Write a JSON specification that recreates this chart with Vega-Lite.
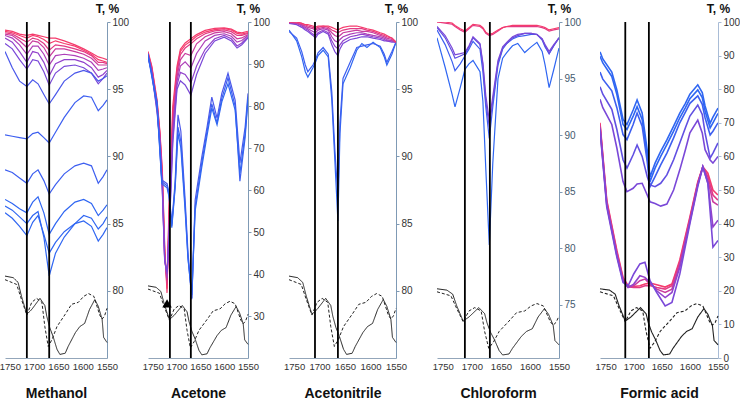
{
"$schema":"https://vega.github.io/schema/vega-lite/v6.json",
"padding":{"left":-1,"top":2,"right":0,"bottom":0},
"spacing":41,
"bounds":"flush",
"config":{"view":{"stroke":null},"font":"Liberation Sans",
"axisX":{"domainColor":"#93a6ba","ticks":false,"labelPadding":3,"labelFontSize":9.5,"labelColor":"#333","labelFlush":false,"labelOverlap":false,"labelSeparation":0,"grid":false,"format":"d","titleFontSize":14,"titleFontWeight":"bold","titleColor":"#111","titleY":39,"titleBaseline":"alphabetic"},
"axisY":{"domainColor":"#7f9ab5","tickColor":"#7f9ab5","tickSize":3,"labelPadding":2,"labelFontSize":10,"labelColor":"#333","labelOverlap":false,"grid":false,"titleAngle":0,"titleFontSize":12,"titleFontWeight":"bold","titleColor":"#111","titleX":0,"titleY":-10,"titleAlign":"center","titleBaseline":"alphabetic"}},
"datasets":{
"ser":[{"s":"1a","p":1,"c":9},{"s":"1b","p":1,"c":9},{"s":"1c","p":1,"c":8},{"s":"1d","p":1,"c":7},{"s":"1e","p":1,"c":6},{"s":"1f","p":1,"c":5},{"s":"1g","p":1,"c":4},{"s":"1h","p":1,"c":2},{"s":"1i","p":1,"c":1},{"s":"1j","p":1,"c":1},{"s":"1k","p":1,"c":0},{"s":"1l","p":1,"c":0},{"s":"1m","p":1,"c":0},
{"s":"2a","p":2,"c":9},{"s":"2b","p":2,"c":9},{"s":"2c","p":2,"c":8},{"s":"2d","p":2,"c":7},{"s":"2e","p":2,"c":6},{"s":"2f","p":2,"c":5},{"s":"2g","p":2,"c":4},{"s":"2h","p":2,"c":2},{"s":"2i","p":2,"c":1},{"s":"2j","p":2,"c":0},
{"s":"3a","p":3,"c":0},{"s":"3b","p":3,"c":1},{"s":"3c","p":3,"c":4},{"s":"3d","p":3,"c":5},{"s":"3e","p":3,"c":6},{"s":"3f","p":3,"c":7},{"s":"3g","p":3,"c":8},{"s":"3h","p":3,"c":9},
{"s":"4a","p":4,"c":0},{"s":"4b","p":4,"c":1},{"s":"4c","p":4,"c":3},{"s":"4d","p":4,"c":4},{"s":"4e","p":4,"c":8},{"s":"4f","p":4,"c":9},
{"s":"5a","p":5,"c":0},{"s":"5b","p":5,"c":0},{"s":"5c","p":5,"c":1},{"s":"5d","p":5,"c":3},{"s":"5e","p":5,"c":4},{"s":"5f","p":5,"c":9},{"s":"5g","p":5,"c":8},{"s":"5h","p":5,"c":7},{"s":"5i","p":5,"c":5},{"s":"5j","p":5,"c":4}],
"sp":[
{"s":"1a","x":1760,"y":99.4},{"s":"1a","x":1745,"y":99.3},{"s":"1a","x":1730,"y":99.1},{"s":"1a","x":1715,"y":99.0},{"s":"1a","x":1703,"y":99.1},{"s":"1a","x":1692,"y":99.0},{"s":"1a","x":1680,"y":98.9},{"s":"1a","x":1669,"y":98.8},{"s":"1a","x":1656,"y":98.8},{"s":"1a","x":1638,"y":98.6},{"s":"1a","x":1616,"y":98.3},{"s":"1a","x":1598,"y":98.0},{"s":"1a","x":1582,"y":97.7},{"s":"1a","x":1568,"y":97.4},{"s":"1a","x":1558,"y":97.3},{"s":"1a","x":1550,"y":97.2},
{"s":"1b","x":1760,"y":99.3},{"s":"1b","x":1745,"y":99.2},{"s":"1b","x":1730,"y":99.0},{"s":"1b","x":1715,"y":98.8},{"s":"1b","x":1703,"y":99.0},{"s":"1b","x":1692,"y":98.9},{"s":"1b","x":1680,"y":98.7},{"s":"1b","x":1669,"y":98.4},{"s":"1b","x":1656,"y":98.6},{"s":"1b","x":1638,"y":98.4},{"s":"1b","x":1616,"y":98.2},{"s":"1b","x":1598,"y":97.9},{"s":"1b","x":1582,"y":97.6},{"s":"1b","x":1568,"y":97.2},{"s":"1b","x":1558,"y":97.1},{"s":"1b","x":1550,"y":97.0},
{"s":"1c","x":1760,"y":99.2},{"s":"1c","x":1745,"y":99.1},{"s":"1c","x":1730,"y":98.8},{"s":"1c","x":1715,"y":98.5},{"s":"1c","x":1703,"y":98.8},{"s":"1c","x":1692,"y":98.7},{"s":"1c","x":1680,"y":98.4},{"s":"1c","x":1669,"y":97.9},{"s":"1c","x":1656,"y":98.3},{"s":"1c","x":1638,"y":98.2},{"s":"1c","x":1616,"y":98.0},{"s":"1c","x":1598,"y":97.8},{"s":"1c","x":1582,"y":97.5},{"s":"1c","x":1568,"y":97.0},{"s":"1c","x":1558,"y":97.0},{"s":"1c","x":1550,"y":96.9},
{"s":"1d","x":1760,"y":99.1},{"s":"1d","x":1745,"y":99.0},{"s":"1d","x":1730,"y":98.6},{"s":"1d","x":1715,"y":98.1},{"s":"1d","x":1703,"y":98.6},{"s":"1d","x":1692,"y":98.5},{"s":"1d","x":1680,"y":98.1},{"s":"1d","x":1669,"y":97.4},{"s":"1d","x":1656,"y":98.0},{"s":"1d","x":1638,"y":98.0},{"s":"1d","x":1616,"y":97.8},{"s":"1d","x":1598,"y":97.6},{"s":"1d","x":1582,"y":97.3},{"s":"1d","x":1568,"y":96.8},{"s":"1d","x":1558,"y":96.8},{"s":"1d","x":1550,"y":96.8},
{"s":"1e","x":1760,"y":99.0},{"s":"1e","x":1745,"y":98.8},{"s":"1e","x":1730,"y":98.3},{"s":"1e","x":1715,"y":97.6},{"s":"1e","x":1703,"y":98.2},{"s":"1e","x":1692,"y":98.2},{"s":"1e","x":1680,"y":97.6},{"s":"1e","x":1669,"y":96.8},{"s":"1e","x":1656,"y":97.5},{"s":"1e","x":1638,"y":97.6},{"s":"1e","x":1616,"y":97.5},{"s":"1e","x":1598,"y":97.3},{"s":"1e","x":1582,"y":97.0},{"s":"1e","x":1568,"y":96.4},{"s":"1e","x":1558,"y":96.5},{"s":"1e","x":1550,"y":96.6},
{"s":"1f","x":1760,"y":98.8},{"s":"1f","x":1745,"y":98.5},{"s":"1f","x":1730,"y":97.8},{"s":"1f","x":1715,"y":97.0},{"s":"1f","x":1703,"y":97.8},{"s":"1f","x":1692,"y":97.7},{"s":"1f","x":1680,"y":97.0},{"s":"1f","x":1669,"y":96.0},{"s":"1f","x":1656,"y":96.9},{"s":"1f","x":1638,"y":97.2},{"s":"1f","x":1616,"y":97.2},{"s":"1f","x":1598,"y":97.0},{"s":"1f","x":1582,"y":96.6},{"s":"1f","x":1568,"y":95.9},{"s":"1f","x":1558,"y":96.1},{"s":"1f","x":1550,"y":96.4},
{"s":"1g","x":1760,"y":98.4},{"s":"1g","x":1745,"y":98.0},{"s":"1g","x":1730,"y":97.2},{"s":"1g","x":1715,"y":96.5},{"s":"1g","x":1703,"y":97.2},{"s":"1g","x":1692,"y":97.1},{"s":"1g","x":1680,"y":96.3},{"s":"1g","x":1669,"y":95.3},{"s":"1g","x":1656,"y":96.2},{"s":"1g","x":1638,"y":96.7},{"s":"1g","x":1616,"y":96.8},{"s":"1g","x":1598,"y":96.6},{"s":"1g","x":1582,"y":96.2},{"s":"1g","x":1568,"y":95.4},{"s":"1g","x":1558,"y":95.8},{"s":"1g","x":1550,"y":96.2},
{"s":"1h","x":1760,"y":97.8},{"s":"1h","x":1745,"y":96.6},{"s":"1h","x":1730,"y":95.6},{"s":"1h","x":1715,"y":95.2},{"s":"1h","x":1703,"y":95.7},{"s":"1h","x":1692,"y":95.4},{"s":"1h","x":1680,"y":94.6},{"s":"1h","x":1669,"y":93.9},{"s":"1h","x":1656,"y":94.6},{"s":"1h","x":1638,"y":95.6},{"s":"1h","x":1616,"y":96.2},{"s":"1h","x":1598,"y":96.4},{"s":"1h","x":1582,"y":96.2},{"s":"1h","x":1568,"y":95.6},{"s":"1h","x":1558,"y":95.8},{"s":"1h","x":1550,"y":96.0},
{"s":"1i","x":1760,"y":91.6},{"s":"1i","x":1745,"y":91.5},{"s":"1i","x":1730,"y":91.4},{"s":"1i","x":1715,"y":91.3},{"s":"1i","x":1703,"y":91.7},{"s":"1i","x":1692,"y":91.8},{"s":"1i","x":1680,"y":91.4},{"s":"1i","x":1669,"y":91.0},{"s":"1i","x":1656,"y":91.8},{"s":"1i","x":1638,"y":92.9},{"s":"1i","x":1616,"y":94.0},{"s":"1i","x":1598,"y":94.5},{"s":"1i","x":1582,"y":94.4},{"s":"1i","x":1568,"y":93.4},{"s":"1i","x":1558,"y":93.8},{"s":"1i","x":1550,"y":94.2},
{"s":"1j","x":1760,"y":89.0},{"s":"1j","x":1745,"y":88.8},{"s":"1j","x":1730,"y":88.4},{"s":"1j","x":1715,"y":88.0},{"s":"1j","x":1703,"y":88.7},{"s":"1j","x":1692,"y":89.0},{"s":"1j","x":1680,"y":88.2},{"s":"1j","x":1669,"y":87.2},{"s":"1j","x":1656,"y":87.9},{"s":"1j","x":1638,"y":88.7},{"s":"1j","x":1616,"y":89.3},{"s":"1j","x":1598,"y":89.5},{"s":"1j","x":1582,"y":89.3},{"s":"1j","x":1568,"y":88.0},{"s":"1j","x":1558,"y":88.5},{"s":"1j","x":1550,"y":89.0},
{"s":"1k","x":1760,"y":86.8},{"s":"1k","x":1745,"y":86.5},{"s":"1k","x":1730,"y":86.1},{"s":"1k","x":1715,"y":85.8},{"s":"1k","x":1703,"y":86.6},{"s":"1k","x":1692,"y":87.0},{"s":"1k","x":1680,"y":85.8},{"s":"1k","x":1669,"y":84.2},{"s":"1k","x":1656,"y":85.0},{"s":"1k","x":1638,"y":85.9},{"s":"1k","x":1616,"y":86.6},{"s":"1k","x":1598,"y":86.8},{"s":"1k","x":1582,"y":86.5},{"s":"1k","x":1568,"y":85.6},{"s":"1k","x":1558,"y":86.0},{"s":"1k","x":1550,"y":86.4},
{"s":"1l","x":1760,"y":85.8},{"s":"1l","x":1745,"y":85.4},{"s":"1l","x":1730,"y":84.8},{"s":"1l","x":1715,"y":84.1},{"s":"1l","x":1703,"y":85.1},{"s":"1l","x":1692,"y":85.6},{"s":"1l","x":1680,"y":84.2},{"s":"1l","x":1669,"y":82.8},{"s":"1l","x":1656,"y":83.6},{"s":"1l","x":1638,"y":84.4},{"s":"1l","x":1616,"y":85.0},{"s":"1l","x":1598,"y":85.2},{"s":"1l","x":1582,"y":84.8},{"s":"1l","x":1568,"y":83.7},{"s":"1l","x":1558,"y":84.2},{"s":"1l","x":1550,"y":84.7},
{"s":"1m","x":1760,"y":86.3},{"s":"1m","x":1745,"y":86.0},{"s":"1m","x":1730,"y":85.5},{"s":"1m","x":1715,"y":85.0},{"s":"1m","x":1703,"y":85.6},{"s":"1m","x":1692,"y":85.9},{"s":"1m","x":1680,"y":84.0},{"s":"1m","x":1669,"y":81.1},{"s":"1m","x":1656,"y":82.8},{"s":"1m","x":1638,"y":84.0},{"s":"1m","x":1616,"y":85.0},{"s":"1m","x":1598,"y":85.6},{"s":"1m","x":1582,"y":85.4},{"s":"1m","x":1568,"y":84.6},{"s":"1m","x":1558,"y":85.0},{"s":"1m","x":1550,"y":85.5},
{"s":"2a","x":1760,"y":93.0},{"s":"2a","x":1752,"y":89.5},{"s":"2a","x":1741,"y":81.5},{"s":"2a","x":1735,"y":74.0},{"s":"2a","x":1730,"y":65.0},{"s":"2a","x":1725,"y":47.0},{"s":"2a","x":1720,"y":35.5},{"s":"2a","x":1716,"y":56.0},{"s":"2a","x":1708,"y":80.0},{"s":"2a","x":1699,"y":89.5},{"s":"2a","x":1692,"y":93.5},{"s":"2a","x":1682,"y":95.0},{"s":"2a","x":1670,"y":96.0},{"s":"2a","x":1658,"y":97.0},{"s":"2a","x":1640,"y":98.0},{"s":"2a","x":1620,"y":98.5},{"s":"2a","x":1600,"y":98.6},{"s":"2a","x":1585,"y":98.3},{"s":"2a","x":1573,"y":97.6},{"s":"2a","x":1563,"y":97.4},{"s":"2a","x":1550,"y":97.8},
{"s":"2b","x":1760,"y":92.7},{"s":"2b","x":1752,"y":89.2},{"s":"2b","x":1741,"y":81.0},{"s":"2b","x":1735,"y":73.5},{"s":"2b","x":1730,"y":64.0},{"s":"2b","x":1725,"y":46.0},{"s":"2b","x":1720,"y":36.5},{"s":"2b","x":1716,"y":54.0},{"s":"2b","x":1708,"y":78.0},{"s":"2b","x":1699,"y":88.8},{"s":"2b","x":1692,"y":93.0},{"s":"2b","x":1682,"y":94.5},{"s":"2b","x":1670,"y":95.5},{"s":"2b","x":1658,"y":96.6},{"s":"2b","x":1640,"y":97.6},{"s":"2b","x":1620,"y":98.2},{"s":"2b","x":1600,"y":98.4},{"s":"2b","x":1585,"y":98.1},{"s":"2b","x":1573,"y":97.3},{"s":"2b","x":1563,"y":97.1},{"s":"2b","x":1550,"y":97.5},
{"s":"2c","x":1760,"y":92.4},{"s":"2c","x":1752,"y":88.9},{"s":"2c","x":1741,"y":80.5},{"s":"2c","x":1735,"y":73.0},{"s":"2c","x":1730,"y":63.0},{"s":"2c","x":1725,"y":45.0},{"s":"2c","x":1720,"y":37.5},{"s":"2c","x":1716,"y":52.0},{"s":"2c","x":1708,"y":76.0},{"s":"2c","x":1699,"y":88.0},{"s":"2c","x":1692,"y":92.2},{"s":"2c","x":1682,"y":93.8},{"s":"2c","x":1670,"y":94.8},{"s":"2c","x":1658,"y":96.0},{"s":"2c","x":1640,"y":97.2},{"s":"2c","x":1620,"y":97.9},{"s":"2c","x":1600,"y":98.1},{"s":"2c","x":1585,"y":97.7},{"s":"2c","x":1573,"y":96.8},{"s":"2c","x":1563,"y":96.8},{"s":"2c","x":1550,"y":97.3},
{"s":"2d","x":1760,"y":92.2},{"s":"2d","x":1752,"y":88.6},{"s":"2d","x":1741,"y":80.0},{"s":"2d","x":1735,"y":72.5},{"s":"2d","x":1730,"y":62.0},{"s":"2d","x":1725,"y":44.0},{"s":"2d","x":1720,"y":38.5},{"s":"2d","x":1716,"y":51.0},{"s":"2d","x":1708,"y":75.0},{"s":"2d","x":1699,"y":87.0},{"s":"2d","x":1692,"y":91.0},{"s":"2d","x":1682,"y":92.5},{"s":"2d","x":1670,"y":92.0},{"s":"2d","x":1658,"y":94.8},{"s":"2d","x":1640,"y":96.5},{"s":"2d","x":1620,"y":97.4},{"s":"2d","x":1600,"y":97.7},{"s":"2d","x":1585,"y":97.2},{"s":"2d","x":1573,"y":96.0},{"s":"2d","x":1563,"y":96.2},{"s":"2d","x":1550,"y":97.0},
{"s":"2e","x":1760,"y":92.0},{"s":"2e","x":1752,"y":88.3},{"s":"2e","x":1741,"y":79.5},{"s":"2e","x":1735,"y":72.0},{"s":"2e","x":1730,"y":61.0},{"s":"2e","x":1725,"y":43.5},{"s":"2e","x":1720,"y":39.0},{"s":"2e","x":1716,"y":50.0},{"s":"2e","x":1708,"y":74.0},{"s":"2e","x":1699,"y":86.0},{"s":"2e","x":1692,"y":89.5},{"s":"2e","x":1682,"y":90.5},{"s":"2e","x":1670,"y":89.0},{"s":"2e","x":1658,"y":92.5},{"s":"2e","x":1640,"y":95.5},{"s":"2e","x":1620,"y":96.8},{"s":"2e","x":1600,"y":97.2},{"s":"2e","x":1585,"y":96.6},{"s":"2e","x":1573,"y":95.2},{"s":"2e","x":1563,"y":95.6},{"s":"2e","x":1550,"y":96.8},
{"s":"2f","x":1760,"y":91.8},{"s":"2f","x":1752,"y":88.0},{"s":"2f","x":1741,"y":79.0},{"s":"2f","x":1735,"y":71.5},{"s":"2f","x":1730,"y":60.5},{"s":"2f","x":1725,"y":43.5},{"s":"2f","x":1720,"y":40.0},{"s":"2f","x":1716,"y":49.0},{"s":"2f","x":1708,"y":72.0},{"s":"2f","x":1699,"y":85.0},{"s":"2f","x":1692,"y":88.0},{"s":"2f","x":1682,"y":87.5},{"s":"2f","x":1670,"y":85.5},{"s":"2f","x":1658,"y":89.5},{"s":"2f","x":1640,"y":93.5},{"s":"2f","x":1620,"y":96.0},{"s":"2f","x":1600,"y":96.8},{"s":"2f","x":1585,"y":96.0},{"s":"2f","x":1573,"y":94.3},{"s":"2f","x":1563,"y":95.0},{"s":"2f","x":1550,"y":96.5},
{"s":"2g","x":1760,"y":91.6},{"s":"2g","x":1752,"y":87.8},{"s":"2g","x":1741,"y":78.5},{"s":"2g","x":1735,"y":71.0},{"s":"2g","x":1730,"y":60.0},{"s":"2g","x":1725,"y":43.0},{"s":"2g","x":1720,"y":40.5},{"s":"2g","x":1716,"y":48.0},{"s":"2g","x":1708,"y":71.0},{"s":"2g","x":1699,"y":84.0},{"s":"2g","x":1692,"y":86.0},{"s":"2g","x":1682,"y":85.0},{"s":"2g","x":1670,"y":82.6},{"s":"2g","x":1658,"y":87.5},{"s":"2g","x":1640,"y":92.5},{"s":"2g","x":1620,"y":95.5},{"s":"2g","x":1600,"y":96.4},{"s":"2g","x":1585,"y":95.5},{"s":"2g","x":1573,"y":93.8},{"s":"2g","x":1563,"y":94.6},{"s":"2g","x":1550,"y":96.2},
{"s":"2h","x":1760,"y":92.5},{"s":"2h","x":1741,"y":81.0},{"s":"2h","x":1731,"y":62.4},{"s":"2h","x":1720,"y":61.5},{"s":"2h","x":1716,"y":59.5},{"s":"2h","x":1710,"y":52.0},{"s":"2h","x":1703,"y":62.0},{"s":"2h","x":1697,"y":77.9},{"s":"2h","x":1691,"y":74.0},{"s":"2h","x":1682,"y":57.6},{"s":"2h","x":1676,"y":45.0},{"s":"2h","x":1668,"y":34.3},{"s":"2h","x":1661,"y":57.6},{"s":"2h","x":1647,"y":67.9},{"s":"2h","x":1636,"y":75.0},{"s":"2h","x":1626,"y":82.1},{"s":"2h","x":1615,"y":77.1},{"s":"2h","x":1605,"y":83.0},{"s":"2h","x":1592,"y":87.8},{"s":"2h","x":1577,"y":81.4},{"s":"2h","x":1567,"y":66.4},{"s":"2h","x":1556,"y":75.0},{"s":"2h","x":1550,"y":83.0},
{"s":"2i","x":1760,"y":92.3},{"s":"2i","x":1741,"y":80.5},{"s":"2i","x":1731,"y":62.0},{"s":"2i","x":1720,"y":61.0},{"s":"2i","x":1716,"y":59.0},{"s":"2i","x":1710,"y":51.5},{"s":"2i","x":1703,"y":61.0},{"s":"2i","x":1697,"y":75.0},{"s":"2i","x":1691,"y":71.5},{"s":"2i","x":1682,"y":56.0},{"s":"2i","x":1676,"y":44.0},{"s":"2i","x":1668,"y":34.0},{"s":"2i","x":1661,"y":56.0},{"s":"2i","x":1647,"y":66.5},{"s":"2i","x":1636,"y":74.0},{"s":"2i","x":1626,"y":80.5},{"s":"2i","x":1615,"y":76.0},{"s":"2i","x":1605,"y":81.8},{"s":"2i","x":1592,"y":86.7},{"s":"2i","x":1577,"y":80.0},{"s":"2i","x":1567,"y":62.1},{"s":"2i","x":1556,"y":72.5},{"s":"2i","x":1550,"y":81.5},
{"s":"2j","x":1760,"y":92.0},{"s":"2j","x":1741,"y":80.0},{"s":"2j","x":1731,"y":61.5},{"s":"2j","x":1720,"y":60.5},{"s":"2j","x":1716,"y":58.5},{"s":"2j","x":1710,"y":51.0},{"s":"2j","x":1703,"y":60.5},{"s":"2j","x":1697,"y":73.5},{"s":"2j","x":1691,"y":70.0},{"s":"2j","x":1682,"y":55.0},{"s":"2j","x":1676,"y":43.5},{"s":"2j","x":1668,"y":35.0},{"s":"2j","x":1661,"y":55.0},{"s":"2j","x":1647,"y":65.5},{"s":"2j","x":1636,"y":73.0},{"s":"2j","x":1626,"y":79.5},{"s":"2j","x":1615,"y":75.5},{"s":"2j","x":1605,"y":81.0},{"s":"2j","x":1592,"y":85.3},{"s":"2j","x":1577,"y":79.0},{"s":"2j","x":1567,"y":64.0},{"s":"2j","x":1556,"y":73.5},{"s":"2j","x":1550,"y":82.0},
{"s":"3a","x":1760,"y":99.4},{"s":"3a","x":1745,"y":98.6},{"s":"3a","x":1735,"y":97.4},{"s":"3a","x":1728,"y":96.3},{"s":"3a","x":1723,"y":95.9},{"s":"3a","x":1713,"y":96.6},{"s":"3a","x":1708,"y":97.0},{"s":"3a","x":1703,"y":97.5},{"s":"3a","x":1693,"y":97.9},{"s":"3a","x":1683,"y":97.4},{"s":"3a","x":1676,"y":94.2},{"s":"3a","x":1670,"y":89.7},{"s":"3a","x":1664,"y":85.2},{"s":"3a","x":1660,"y":91.7},{"s":"3a","x":1654,"y":95.4},{"s":"3a","x":1640,"y":96.6},{"s":"3a","x":1627,"y":97.9},{"s":"3a","x":1617,"y":98.4},{"s":"3a","x":1607,"y":98.1},{"s":"3a","x":1595,"y":98.5},{"s":"3a","x":1581,"y":98.1},{"s":"3a","x":1573,"y":97.4},{"s":"3a","x":1568,"y":96.8},{"s":"3a","x":1558,"y":97.6},{"s":"3a","x":1550,"y":98.5},
{"s":"3b","x":1760,"y":99.3},{"s":"3b","x":1745,"y":98.8},{"s":"3b","x":1735,"y":97.8},{"s":"3b","x":1728,"y":96.8},{"s":"3b","x":1723,"y":96.3},{"s":"3b","x":1713,"y":96.8},{"s":"3b","x":1708,"y":97.2},{"s":"3b","x":1703,"y":97.7},{"s":"3b","x":1693,"y":98.1},{"s":"3b","x":1683,"y":97.6},{"s":"3b","x":1676,"y":94.8},{"s":"3b","x":1670,"y":90.5},{"s":"3b","x":1664,"y":87.0},{"s":"3b","x":1660,"y":92.5},{"s":"3b","x":1654,"y":95.8},{"s":"3b","x":1640,"y":97.0},{"s":"3b","x":1627,"y":98.1},{"s":"3b","x":1617,"y":98.2},{"s":"3b","x":1607,"y":98.3},{"s":"3b","x":1595,"y":98.4},{"s":"3b","x":1581,"y":98.2},{"s":"3b","x":1573,"y":97.6},{"s":"3b","x":1568,"y":97.0},{"s":"3b","x":1558,"y":97.8},{"s":"3b","x":1550,"y":98.5},
{"s":"3c","x":1760,"y":99.9},{"s":"3c","x":1745,"y":99.8},{"s":"3c","x":1735,"y":99.6},{"s":"3c","x":1728,"y":99.4},{"s":"3c","x":1723,"y":99.3},{"s":"3c","x":1713,"y":99.0},{"s":"3c","x":1708,"y":98.8},{"s":"3c","x":1703,"y":99.1},{"s":"3c","x":1693,"y":99.3},{"s":"3c","x":1683,"y":99.1},{"s":"3c","x":1676,"y":98.3},{"s":"3c","x":1670,"y":97.8},{"s":"3c","x":1664,"y":97.5},{"s":"3c","x":1660,"y":98.0},{"s":"3c","x":1654,"y":98.4},{"s":"3c","x":1640,"y":98.7},{"s":"3c","x":1627,"y":98.8},{"s":"3c","x":1617,"y":98.9},{"s":"3c","x":1607,"y":98.9},{"s":"3c","x":1595,"y":98.8},{"s":"3c","x":1581,"y":98.7},{"s":"3c","x":1573,"y":98.6},{"s":"3c","x":1568,"y":98.6},{"s":"3c","x":1558,"y":98.5},{"s":"3c","x":1550,"y":98.5},
{"s":"3d","x":1760,"y":99.9},{"s":"3d","x":1745,"y":99.9},{"s":"3d","x":1735,"y":99.7},{"s":"3d","x":1728,"y":99.5},{"s":"3d","x":1723,"y":99.4},{"s":"3d","x":1713,"y":99.1},{"s":"3d","x":1708,"y":99.0},{"s":"3d","x":1703,"y":99.2},{"s":"3d","x":1693,"y":99.4},{"s":"3d","x":1683,"y":99.2},{"s":"3d","x":1676,"y":98.6},{"s":"3d","x":1670,"y":98.2},{"s":"3d","x":1664,"y":98.0},{"s":"3d","x":1660,"y":98.3},{"s":"3d","x":1654,"y":98.6},{"s":"3d","x":1640,"y":98.9},{"s":"3d","x":1627,"y":99.0},{"s":"3d","x":1617,"y":99.1},{"s":"3d","x":1607,"y":99.0},{"s":"3d","x":1595,"y":98.9},{"s":"3d","x":1581,"y":98.8},{"s":"3d","x":1573,"y":98.7},{"s":"3d","x":1568,"y":98.6},{"s":"3d","x":1558,"y":98.6},{"s":"3d","x":1550,"y":98.5},
{"s":"3e","x":1760,"y":100},{"s":"3e","x":1745,"y":99.9},{"s":"3e","x":1735,"y":99.8},{"s":"3e","x":1728,"y":99.6},{"s":"3e","x":1723,"y":99.5},{"s":"3e","x":1713,"y":99.3},{"s":"3e","x":1708,"y":99.2},{"s":"3e","x":1703,"y":99.4},{"s":"3e","x":1693,"y":99.5},{"s":"3e","x":1683,"y":99.4},{"s":"3e","x":1676,"y":98.9},{"s":"3e","x":1670,"y":98.6},{"s":"3e","x":1664,"y":98.5},{"s":"3e","x":1660,"y":98.7},{"s":"3e","x":1654,"y":98.9},{"s":"3e","x":1640,"y":99.1},{"s":"3e","x":1627,"y":99.2},{"s":"3e","x":1617,"y":99.2},{"s":"3e","x":1607,"y":99.1},{"s":"3e","x":1595,"y":99.0},{"s":"3e","x":1581,"y":98.9},{"s":"3e","x":1573,"y":98.8},{"s":"3e","x":1568,"y":98.7},{"s":"3e","x":1558,"y":98.6},{"s":"3e","x":1550,"y":98.5},
{"s":"3f","x":1760,"y":100},{"s":"3f","x":1745,"y":99.9},{"s":"3f","x":1735,"y":99.8},{"s":"3f","x":1728,"y":99.7},{"s":"3f","x":1723,"y":99.6},{"s":"3f","x":1713,"y":99.5},{"s":"3f","x":1708,"y":99.4},{"s":"3f","x":1703,"y":99.5},{"s":"3f","x":1693,"y":99.6},{"s":"3f","x":1683,"y":99.5},{"s":"3f","x":1676,"y":99.2},{"s":"3f","x":1670,"y":99.0},{"s":"3f","x":1664,"y":98.9},{"s":"3f","x":1660,"y":99.0},{"s":"3f","x":1654,"y":99.2},{"s":"3f","x":1640,"y":99.3},{"s":"3f","x":1627,"y":99.4},{"s":"3f","x":1617,"y":99.3},{"s":"3f","x":1607,"y":99.3},{"s":"3f","x":1595,"y":99.2},{"s":"3f","x":1581,"y":99.0},{"s":"3f","x":1573,"y":98.9},{"s":"3f","x":1568,"y":98.8},{"s":"3f","x":1558,"y":98.7},{"s":"3f","x":1550,"y":98.5},
{"s":"3g","x":1760,"y":100},{"s":"3g","x":1745,"y":100},{"s":"3g","x":1735,"y":99.9},{"s":"3g","x":1728,"y":99.8},{"s":"3g","x":1723,"y":99.7},{"s":"3g","x":1713,"y":99.6},{"s":"3g","x":1708,"y":99.5},{"s":"3g","x":1703,"y":99.6},{"s":"3g","x":1693,"y":99.7},{"s":"3g","x":1683,"y":99.6},{"s":"3g","x":1676,"y":99.4},{"s":"3g","x":1670,"y":99.3},{"s":"3g","x":1664,"y":99.2},{"s":"3g","x":1660,"y":99.3},{"s":"3g","x":1654,"y":99.4},{"s":"3g","x":1640,"y":99.5},{"s":"3g","x":1627,"y":99.5},{"s":"3g","x":1617,"y":99.5},{"s":"3g","x":1607,"y":99.4},{"s":"3g","x":1595,"y":99.3},{"s":"3g","x":1581,"y":99.1},{"s":"3g","x":1573,"y":99.0},{"s":"3g","x":1568,"y":98.9},{"s":"3g","x":1558,"y":98.8},{"s":"3g","x":1550,"y":98.5},
{"s":"3h","x":1760,"y":100},{"s":"3h","x":1745,"y":100},{"s":"3h","x":1735,"y":99.9},{"s":"3h","x":1728,"y":99.8},{"s":"3h","x":1723,"y":99.8},{"s":"3h","x":1713,"y":99.7},{"s":"3h","x":1708,"y":99.6},{"s":"3h","x":1703,"y":99.7},{"s":"3h","x":1693,"y":99.7},{"s":"3h","x":1683,"y":99.7},{"s":"3h","x":1676,"y":99.6},{"s":"3h","x":1670,"y":99.5},{"s":"3h","x":1664,"y":99.4},{"s":"3h","x":1660,"y":99.5},{"s":"3h","x":1654,"y":99.6},{"s":"3h","x":1640,"y":99.7},{"s":"3h","x":1627,"y":99.7},{"s":"3h","x":1617,"y":99.6},{"s":"3h","x":1607,"y":99.5},{"s":"3h","x":1595,"y":99.4},{"s":"3h","x":1581,"y":99.2},{"s":"3h","x":1573,"y":99.1},{"s":"3h","x":1568,"y":99.0},{"s":"3h","x":1558,"y":98.8},{"s":"3h","x":1550,"y":98.5},
{"s":"4a","x":1760,"y":98.6},{"s":"4a","x":1746,"y":96.0},{"s":"4a","x":1734,"y":93.6},{"s":"4a","x":1729,"y":92.5},{"s":"4a","x":1720,"y":94.2},{"s":"4a","x":1712,"y":95.8},{"s":"4a","x":1705,"y":96.3},{"s":"4a","x":1698,"y":96.6},{"s":"4a","x":1686,"y":95.6},{"s":"4a","x":1681,"y":93.0},{"s":"4a","x":1676,"y":87.0},{"s":"4a","x":1670,"y":80.3},{"s":"4a","x":1664,"y":87.5},{"s":"4a","x":1655,"y":95.0},{"s":"4a","x":1647,"y":96.8},{"s":"4a","x":1640,"y":97.3},{"s":"4a","x":1630,"y":97.9},{"s":"4a","x":1621,"y":98.1},{"s":"4a","x":1609,"y":97.3},{"s":"4a","x":1598,"y":97.8},{"s":"4a","x":1588,"y":98.2},{"s":"4a","x":1579,"y":97.4},{"s":"4a","x":1574,"y":96.2},{"s":"4a","x":1567,"y":94.2},{"s":"4a","x":1559,"y":95.8},{"s":"4a","x":1550,"y":97.7},
{"s":"4b","x":1760,"y":99.3},{"s":"4b","x":1746,"y":98.0},{"s":"4b","x":1734,"y":96.5},{"s":"4b","x":1729,"y":95.7},{"s":"4b","x":1720,"y":96.3},{"s":"4b","x":1712,"y":97.0},{"s":"4b","x":1705,"y":97.6},{"s":"4b","x":1698,"y":98.3},{"s":"4b","x":1686,"y":97.6},{"s":"4b","x":1681,"y":95.6},{"s":"4b","x":1676,"y":92.5},{"s":"4b","x":1670,"y":89.7},{"s":"4b","x":1664,"y":92.5},{"s":"4b","x":1655,"y":96.2},{"s":"4b","x":1647,"y":97.6},{"s":"4b","x":1640,"y":98.1},{"s":"4b","x":1630,"y":98.5},{"s":"4b","x":1621,"y":98.7},{"s":"4b","x":1609,"y":98.8},{"s":"4b","x":1598,"y":98.9},{"s":"4b","x":1588,"y":98.9},{"s":"4b","x":1579,"y":98.4},{"s":"4b","x":1574,"y":97.8},{"s":"4b","x":1567,"y":97.2},{"s":"4b","x":1559,"y":97.9},{"s":"4b","x":1550,"y":98.6},
{"s":"4c","x":1760,"y":99.5},{"s":"4c","x":1746,"y":98.6},{"s":"4c","x":1734,"y":97.4},{"s":"4c","x":1729,"y":96.8},{"s":"4c","x":1720,"y":97.0},{"s":"4c","x":1712,"y":97.2},{"s":"4c","x":1705,"y":97.8},{"s":"4c","x":1698,"y":98.6},{"s":"4c","x":1686,"y":98.0},{"s":"4c","x":1681,"y":96.2},{"s":"4c","x":1676,"y":93.0},{"s":"4c","x":1670,"y":90.7},{"s":"4c","x":1664,"y":93.0},{"s":"4c","x":1655,"y":96.4},{"s":"4c","x":1647,"y":97.7},{"s":"4c","x":1640,"y":98.1},{"s":"4c","x":1630,"y":98.6},{"s":"4c","x":1621,"y":98.8},{"s":"4c","x":1609,"y":99.0},{"s":"4c","x":1598,"y":99.0},{"s":"4c","x":1588,"y":98.9},{"s":"4c","x":1579,"y":98.5},{"s":"4c","x":1574,"y":97.9},{"s":"4c","x":1567,"y":97.2},{"s":"4c","x":1559,"y":97.9},{"s":"4c","x":1550,"y":98.6},
{"s":"4d","x":1760,"y":99.6},{"s":"4d","x":1746,"y":98.8},{"s":"4d","x":1734,"y":97.7},{"s":"4d","x":1729,"y":97.1},{"s":"4d","x":1720,"y":97.2},{"s":"4d","x":1712,"y":97.3},{"s":"4d","x":1705,"y":97.9},{"s":"4d","x":1698,"y":98.7},{"s":"4d","x":1686,"y":98.1},{"s":"4d","x":1681,"y":96.4},{"s":"4d","x":1676,"y":93.5},{"s":"4d","x":1670,"y":91.3},{"s":"4d","x":1664,"y":93.4},{"s":"4d","x":1655,"y":96.6},{"s":"4d","x":1647,"y":97.8},{"s":"4d","x":1640,"y":98.2},{"s":"4d","x":1630,"y":98.7},{"s":"4d","x":1621,"y":98.9},{"s":"4d","x":1609,"y":99.0},{"s":"4d","x":1598,"y":99.0},{"s":"4d","x":1588,"y":98.9},{"s":"4d","x":1579,"y":98.5},{"s":"4d","x":1574,"y":98.0},{"s":"4d","x":1567,"y":97.4},{"s":"4d","x":1559,"y":98.0},{"s":"4d","x":1550,"y":98.6},
{"s":"4e","x":1760,"y":100},{"s":"4e","x":1746,"y":99.9},{"s":"4e","x":1734,"y":99.8},{"s":"4e","x":1729,"y":99.6},{"s":"4e","x":1720,"y":99.3},{"s":"4e","x":1712,"y":99.1},{"s":"4e","x":1705,"y":99.4},{"s":"4e","x":1698,"y":99.7},{"s":"4e","x":1686,"y":99.6},{"s":"4e","x":1681,"y":99.4},{"s":"4e","x":1676,"y":99.0},{"s":"4e","x":1670,"y":98.8},{"s":"4e","x":1664,"y":98.9},{"s":"4e","x":1655,"y":99.2},{"s":"4e","x":1647,"y":99.5},{"s":"4e","x":1640,"y":99.6},{"s":"4e","x":1630,"y":99.6},{"s":"4e","x":1621,"y":99.6},{"s":"4e","x":1609,"y":99.6},{"s":"4e","x":1598,"y":99.6},{"s":"4e","x":1588,"y":99.6},{"s":"4e","x":1579,"y":99.5},{"s":"4e","x":1574,"y":99.4},{"s":"4e","x":1567,"y":99.2},{"s":"4e","x":1559,"y":99.3},{"s":"4e","x":1550,"y":99.4},
{"s":"4f","x":1760,"y":100},{"s":"4f","x":1746,"y":100},{"s":"4f","x":1734,"y":99.9},{"s":"4f","x":1729,"y":99.7},{"s":"4f","x":1720,"y":99.4},{"s":"4f","x":1712,"y":99.2},{"s":"4f","x":1705,"y":99.5},{"s":"4f","x":1698,"y":99.8},{"s":"4f","x":1686,"y":99.7},{"s":"4f","x":1681,"y":99.5},{"s":"4f","x":1676,"y":99.1},{"s":"4f","x":1670,"y":98.9},{"s":"4f","x":1664,"y":99.0},{"s":"4f","x":1655,"y":99.3},{"s":"4f","x":1647,"y":99.5},{"s":"4f","x":1640,"y":99.6},{"s":"4f","x":1630,"y":99.7},{"s":"4f","x":1621,"y":99.7},{"s":"4f","x":1609,"y":99.7},{"s":"4f","x":1598,"y":99.7},{"s":"4f","x":1588,"y":99.7},{"s":"4f","x":1579,"y":99.6},{"s":"4f","x":1574,"y":99.5},{"s":"4f","x":1567,"y":99.3},{"s":"4f","x":1559,"y":99.4},{"s":"4f","x":1550,"y":99.5},
{"s":"5a","x":1760,"y":91.1},{"s":"5a","x":1755,"y":89.0},{"s":"5a","x":1739,"y":85.1},{"s":"5a","x":1730,"y":79.8},{"s":"5a","x":1719,"y":71.0},{"s":"5a","x":1712,"y":69.5},{"s":"5a","x":1701,"y":73.8},{"s":"5a","x":1694,"y":76.8},{"s":"5a","x":1685,"y":72.9},{"s":"5a","x":1676,"y":61.9},{"s":"5a","x":1671,"y":53.9},{"s":"5a","x":1662,"y":58.0},{"s":"5a","x":1652,"y":61.5},{"s":"5a","x":1641,"y":64.9},{"s":"5a","x":1629,"y":69.0},{"s":"5a","x":1618,"y":72.9},{"s":"5a","x":1608,"y":75.8},{"s":"5a","x":1600,"y":78.5},{"s":"5a","x":1586,"y":81.3},{"s":"5a","x":1578,"y":79.0},{"s":"5a","x":1573,"y":75.0},{"s":"5a","x":1564,"y":69.9},{"s":"5a","x":1559,"y":71.7},{"s":"5a","x":1550,"y":74.4},
{"s":"5b","x":1760,"y":89.8},{"s":"5b","x":1755,"y":87.8},{"s":"5b","x":1739,"y":83.8},{"s":"5b","x":1730,"y":78.5},{"s":"5b","x":1719,"y":69.5},{"s":"5b","x":1712,"y":68.0},{"s":"5b","x":1701,"y":72.0},{"s":"5b","x":1694,"y":74.8},{"s":"5b","x":1685,"y":71.0},{"s":"5b","x":1676,"y":60.0},{"s":"5b","x":1671,"y":52.5},{"s":"5b","x":1662,"y":56.5},{"s":"5b","x":1652,"y":60.0},{"s":"5b","x":1641,"y":63.5},{"s":"5b","x":1629,"y":67.5},{"s":"5b","x":1618,"y":71.5},{"s":"5b","x":1608,"y":74.5},{"s":"5b","x":1600,"y":77.2},{"s":"5b","x":1586,"y":79.8},{"s":"5b","x":1578,"y":77.5},{"s":"5b","x":1573,"y":73.5},{"s":"5b","x":1564,"y":68.5},{"s":"5b","x":1559,"y":70.0},{"s":"5b","x":1550,"y":72.8},
{"s":"5c","x":1760,"y":85.1},{"s":"5c","x":1755,"y":83.0},{"s":"5c","x":1739,"y":79.5},{"s":"5c","x":1730,"y":74.5},{"s":"5c","x":1719,"y":66.5},{"s":"5c","x":1712,"y":65.0},{"s":"5c","x":1701,"y":69.5},{"s":"5c","x":1694,"y":72.9},{"s":"5c","x":1685,"y":69.0},{"s":"5c","x":1676,"y":58.5},{"s":"5c","x":1671,"y":51.0},{"s":"5c","x":1662,"y":54.0},{"s":"5c","x":1652,"y":57.5},{"s":"5c","x":1641,"y":61.0},{"s":"5c","x":1629,"y":65.5},{"s":"5c","x":1618,"y":70.0},{"s":"5c","x":1608,"y":73.2},{"s":"5c","x":1600,"y":75.8},{"s":"5c","x":1586,"y":78.0},{"s":"5c","x":1578,"y":75.5},{"s":"5c","x":1573,"y":71.5},{"s":"5c","x":1564,"y":66.4},{"s":"5c","x":1559,"y":67.5},{"s":"5c","x":1550,"y":70.0},
{"s":"5d","x":1760,"y":80.7},{"s":"5d","x":1755,"y":78.5},{"s":"5d","x":1739,"y":74.0},{"s":"5d","x":1730,"y":68.0},{"s":"5d","x":1719,"y":59.0},{"s":"5d","x":1712,"y":56.5},{"s":"5d","x":1701,"y":60.5},{"s":"5d","x":1694,"y":63.4},{"s":"5d","x":1685,"y":60.0},{"s":"5d","x":1676,"y":54.0},{"s":"5d","x":1671,"y":51.5},{"s":"5d","x":1662,"y":51.0},{"s":"5d","x":1652,"y":52.0},{"s":"5d","x":1641,"y":54.5},{"s":"5d","x":1629,"y":59.0},{"s":"5d","x":1618,"y":64.0},{"s":"5d","x":1608,"y":68.5},{"s":"5d","x":1600,"y":72.0},{"s":"5d","x":1586,"y":75.3},{"s":"5d","x":1578,"y":72.5},{"s":"5d","x":1573,"y":67.0},{"s":"5d","x":1564,"y":59.5},{"s":"5d","x":1559,"y":61.0},{"s":"5d","x":1550,"y":64.0},
{"s":"5e","x":1760,"y":77.0},{"s":"5e","x":1755,"y":74.5},{"s":"5e","x":1739,"y":69.5},{"s":"5e","x":1730,"y":62.5},{"s":"5e","x":1719,"y":52.5},{"s":"5e","x":1712,"y":49.5},{"s":"5e","x":1701,"y":50.5},{"s":"5e","x":1694,"y":51.8},{"s":"5e","x":1685,"y":52.0},{"s":"5e","x":1676,"y":48.5},{"s":"5e","x":1671,"y":46.5},{"s":"5e","x":1662,"y":46.0},{"s":"5e","x":1652,"y":45.2},{"s":"5e","x":1641,"y":45.8},{"s":"5e","x":1629,"y":50.0},{"s":"5e","x":1618,"y":56.0},{"s":"5e","x":1608,"y":62.0},{"s":"5e","x":1600,"y":67.0},{"s":"5e","x":1586,"y":70.8},{"s":"5e","x":1578,"y":67.0},{"s":"5e","x":1573,"y":62.0},{"s":"5e","x":1564,"y":58.9},{"s":"5e","x":1559,"y":58.0},{"s":"5e","x":1550,"y":60.0},
{"s":"5f","x":1760,"y":70.0},{"s":"5f","x":1748,"y":47.0},{"s":"5f","x":1742,"y":42.0},{"s":"5f","x":1730,"y":32.0},{"s":"5f","x":1719,"y":24.0},{"s":"5f","x":1710,"y":21.5},{"s":"5f","x":1700,"y":21.3},{"s":"5f","x":1689,"y":21.5},{"s":"5f","x":1680,"y":22.0},{"s":"5f","x":1671,"y":22.3},{"s":"5f","x":1659,"y":21.8},{"s":"5f","x":1644,"y":21.1},{"s":"5f","x":1632,"y":22.0},{"s":"5f","x":1618,"y":29.2},{"s":"5f","x":1600,"y":42.0},{"s":"5f","x":1586,"y":52.4},{"s":"5f","x":1577,"y":56.9},{"s":"5f","x":1568,"y":55.0},{"s":"5f","x":1559,"y":50.0},{"s":"5f","x":1550,"y":48.5},
{"s":"5g","x":1760,"y":69.5},{"s":"5g","x":1748,"y":46.5},{"s":"5g","x":1742,"y":41.5},{"s":"5g","x":1730,"y":31.5},{"s":"5g","x":1719,"y":23.5},{"s":"5g","x":1710,"y":21.2},{"s":"5g","x":1700,"y":21.0},{"s":"5g","x":1689,"y":21.0},{"s":"5g","x":1680,"y":21.5},{"s":"5g","x":1671,"y":21.6},{"s":"5g","x":1659,"y":21.0},{"s":"5g","x":1644,"y":20.5},{"s":"5g","x":1632,"y":21.5},{"s":"5g","x":1618,"y":28.5},{"s":"5g","x":1600,"y":41.5},{"s":"5g","x":1586,"y":52.0},{"s":"5g","x":1577,"y":56.9},{"s":"5g","x":1568,"y":54.0},{"s":"5g","x":1559,"y":48.5},{"s":"5g","x":1550,"y":47.0},
{"s":"5h","x":1760,"y":69.0},{"s":"5h","x":1748,"y":46.0},{"s":"5h","x":1742,"y":41.0},{"s":"5h","x":1730,"y":31.0},{"s":"5h","x":1719,"y":23.0},{"s":"5h","x":1710,"y":21.0},{"s":"5h","x":1700,"y":21.5},{"s":"5h","x":1689,"y":23.0},{"s":"5h","x":1680,"y":23.5},{"s":"5h","x":1671,"y":22.0},{"s":"5h","x":1659,"y":20.5},{"s":"5h","x":1644,"y":19.5},{"s":"5h","x":1632,"y":20.5},{"s":"5h","x":1618,"y":27.5},{"s":"5h","x":1600,"y":41.0},{"s":"5h","x":1586,"y":51.8},{"s":"5h","x":1577,"y":56.9},{"s":"5h","x":1568,"y":53.0},{"s":"5h","x":1559,"y":46.5},{"s":"5h","x":1550,"y":45.5},
{"s":"5i","x":1760,"y":68.5},{"s":"5i","x":1748,"y":45.5},{"s":"5i","x":1742,"y":40.5},{"s":"5i","x":1730,"y":30.5},{"s":"5i","x":1719,"y":23.0},{"s":"5i","x":1710,"y":21.0},{"s":"5i","x":1700,"y":22.0},{"s":"5i","x":1689,"y":24.5},{"s":"5i","x":1680,"y":24.0},{"s":"5i","x":1671,"y":22.5},{"s":"5i","x":1659,"y":20.0},{"s":"5i","x":1644,"y":18.0},{"s":"5i","x":1632,"y":19.5},{"s":"5i","x":1618,"y":27.0},{"s":"5i","x":1600,"y":40.5},{"s":"5i","x":1586,"y":51.5},{"s":"5i","x":1577,"y":56.9},{"s":"5i","x":1568,"y":52.0},{"s":"5i","x":1559,"y":39.0},{"s":"5i","x":1550,"y":41.0},
{"s":"5j","x":1760,"y":68.0},{"s":"5j","x":1748,"y":45.0},{"s":"5j","x":1742,"y":40.0},{"s":"5j","x":1730,"y":30.0},{"s":"5j","x":1719,"y":22.5},{"s":"5j","x":1710,"y":21.5},{"s":"5j","x":1700,"y":25.0},{"s":"5j","x":1689,"y":28.0},{"s":"5j","x":1680,"y":28.5},{"s":"5j","x":1671,"y":23.0},{"s":"5j","x":1659,"y":19.5},{"s":"5j","x":1644,"y":15.5},{"s":"5j","x":1632,"y":16.5},{"s":"5j","x":1618,"y":25.0},{"s":"5j","x":1600,"y":40.0},{"s":"5j","x":1586,"y":51.0},{"s":"5j","x":1577,"y":56.9},{"s":"5j","x":1568,"y":52.0},{"s":"5j","x":1559,"y":33.0},{"s":"5j","x":1550,"y":35.0}
],
"ref":[
{"k":"solid","x":1760,"y":20.6},{"k":"solid","x":1743,"y":20.2},{"k":"solid","x":1733,"y":19.0},{"k":"solid","x":1726,"y":15.5},{"k":"solid","x":1715,"y":11.0},{"k":"solid","x":1705,"y":12.2},{"k":"solid","x":1688,"y":15.0},{"k":"solid","x":1678,"y":13.2},{"k":"solid","x":1674,"y":10.5},{"k":"solid","x":1668,"y":7.7},{"k":"solid","x":1661,"y":5.4},{"k":"solid","x":1653,"y":2.2},{"k":"solid","x":1647,"y":0.9},{"k":"solid","x":1636,"y":1.2},{"k":"solid","x":1630,"y":2.9},{"k":"solid","x":1615,"y":6.4},{"k":"solid","x":1606,"y":7.9},{"k":"solid","x":1596,"y":8.7},{"k":"solid","x":1586,"y":12.2},{"k":"solid","x":1575,"y":14.7},{"k":"solid","x":1568,"y":13.0},{"k":"solid","x":1560,"y":9.7},{"k":"solid","x":1557,"y":5.2},{"k":"solid","x":1550,"y":3.9},
{"k":"dashed","x":1760,"y":19.7},{"k":"dashed","x":1736,"y":18.5},{"k":"dashed","x":1726,"y":14.7},{"k":"dashed","x":1715,"y":10.8},{"k":"dashed","x":1705,"y":14.0},{"k":"dashed","x":1695,"y":15.0},{"k":"dashed","x":1684,"y":14.0},{"k":"dashed","x":1678,"y":7.9},{"k":"dashed","x":1671,"y":2.9},{"k":"dashed","x":1663,"y":4.7},{"k":"dashed","x":1653,"y":7.9},{"k":"dashed","x":1636,"y":11.0},{"k":"dashed","x":1623,"y":13.5},{"k":"dashed","x":1609,"y":14.0},{"k":"dashed","x":1598,"y":15.5},{"k":"dashed","x":1588,"y":16.2},{"k":"dashed","x":1577,"y":15.5},{"k":"dashed","x":1565,"y":10.8},{"k":"dashed","x":1560,"y":9.8},{"k":"dashed","x":1555,"y":10.6},{"k":"dashed","x":1550,"y":12.5}],
"rl":[{"p":1,"x":1715},{"p":1,"x":1669},{"p":2,"x":1714},{"p":2,"x":1670},{"p":3,"x":1709},{"p":3,"x":1664},{"p":4,"x":1712},{"p":4,"x":1669},{"p":5,"x":1715},{"p":5,"x":1673}],
"tri":[{"x":1720,"y":33}]
},
"hconcat":[
{"width":102,"height":336,"resolve":{"scale":{"y":"independent"}},"layer":[
{"data":{"name":"sp"},"transform":[{"lookup":"s","from":{"data":{"name":"ser"},"key":"s","fields":["p","c"]}},{"filter":"datum.p==1"}],"mark":{"type":"line","strokeWidth":1.2,"clip":true},"encoding":{"x":{"field":"x","type":"quantitative","scale":{"domain":[1550,1760],"reverse":true,"nice":false,"zero":false},"axis":{"values":[1750,1700,1650,1600,1550],"tickCount":20,"labelOverlap":false,"title":"Methanol"}},"y":{"field":"y","type":"quantitative","scale":{"domain":[75,100],"nice":false,"zero":false},"axis":{"orient":"right","values":[80,85,90,95,100],"tickCount":20,"title":"T, %"}},"color":{"field":"c","type":"ordinal","scale":{"domain":[0,1,2,3,4,5,6,7,8,9],"range":["#2f66f2","#3d5ff0","#4b58ea","#6150e2","#7a48d8","#9343cc","#ae3fb8","#c93c9e","#e23a84","#f53b6c"]},"legend":null},"detail":{"field":"s"}}},
{"data":{"name":"ref"},"mark":{"type":"line","color":"#222","strokeWidth":1},"encoding":{"x":{"field":"x","type":"quantitative"},"y":{"field":"y","type":"quantitative","scale":{"domain":[0,84.5],"nice":false,"zero":false},"axis":null},"strokeDash":{"field":"k","type":"nominal","scale":{"domain":["solid","dashed"],"range":[[1,0],[3,2]]},"legend":null}}},
{"data":{"name":"rl"},"transform":[{"filter":"datum.p==1"}],"mark":{"type":"rule","color":"#000","strokeWidth":1.8},"encoding":{"x":{"field":"x","type":"quantitative"}}}]},
{"width":100,"height":336,"resolve":{"scale":{"y":"independent"}},"layer":[
{"data":{"name":"sp"},"transform":[{"lookup":"s","from":{"data":{"name":"ser"},"key":"s","fields":["p","c"]}},{"filter":"datum.p==2"}],"mark":{"type":"line","strokeWidth":1.2,"clip":true},"encoding":{"x":{"field":"x","type":"quantitative","scale":{"domain":[1550,1760],"reverse":true,"nice":false,"zero":false},"axis":{"values":[1750,1700,1650,1600,1550],"tickCount":20,"labelOverlap":false,"title":"Acetone"}},"y":{"field":"y","type":"quantitative","scale":{"domain":[20,100],"nice":false,"zero":false},"axis":{"orient":"right","values":[30,40,50,60,70,80,90,100],"tickCount":20,"title":"T, %"}},"color":{"field":"c","type":"ordinal","scale":{"domain":[0,1,2,3,4,5,6,7,8,9],"range":["#2f66f2","#3d5ff0","#4b58ea","#6150e2","#7a48d8","#9343cc","#ae3fb8","#c93c9e","#e23a84","#f53b6c"]},"legend":null},"detail":{"field":"s"}}},
{"data":{"name":"ref"},"mark":{"type":"line","color":"#222","strokeWidth":1},"encoding":{"x":{"field":"x","type":"quantitative"},"y":{"field":"y","type":"quantitative","scale":{"domain":[0,96],"nice":false,"zero":false},"axis":null},"strokeDash":{"field":"k","type":"nominal","scale":{"domain":["solid","dashed"],"range":[[1,0],[3,2]]},"legend":null}}},
{"data":{"name":"rl"},"transform":[{"filter":"datum.p==2"}],"mark":{"type":"rule","color":"#000","strokeWidth":1.8},"encoding":{"x":{"field":"x","type":"quantitative"}}},
{"data":{"name":"tri"},"mark":{"type":"point","shape":"triangle-up","filled":true,"color":"#000","opacity":1,"size":90},"encoding":{"x":{"field":"x","type":"quantitative"},"y":{"field":"y","type":"quantitative","scale":{"domain":[20,100],"nice":false,"zero":false},"axis":null}}}]},
{"width":107,"height":336,"resolve":{"scale":{"y":"independent"}},"layer":[
{"data":{"name":"sp"},"transform":[{"lookup":"s","from":{"data":{"name":"ser"},"key":"s","fields":["p","c"]}},{"filter":"datum.p==3"}],"mark":{"type":"line","strokeWidth":1.2,"clip":true},"encoding":{"x":{"field":"x","type":"quantitative","scale":{"domain":[1550,1760],"reverse":true,"nice":false,"zero":false},"axis":{"values":[1750,1700,1650,1600,1550],"tickCount":20,"labelOverlap":false,"title":"Acetonitrile"}},"y":{"field":"y","type":"quantitative","scale":{"domain":[75,100],"nice":false,"zero":false},"axis":{"orient":"right","values":[80,85,90,95,100],"tickCount":20,"title":"T, %"}},"color":{"field":"c","type":"ordinal","scale":{"domain":[0,1,2,3,4,5,6,7,8,9],"range":["#2f66f2","#3d5ff0","#4b58ea","#6150e2","#7a48d8","#9343cc","#ae3fb8","#c93c9e","#e23a84","#f53b6c"]},"legend":null},"detail":{"field":"s"}}},
{"data":{"name":"ref"},"mark":{"type":"line","color":"#222","strokeWidth":1},"encoding":{"x":{"field":"x","type":"quantitative"},"y":{"field":"y","type":"quantitative","scale":{"domain":[0,84.5],"nice":false,"zero":false},"axis":null},"strokeDash":{"field":"k","type":"nominal","scale":{"domain":["solid","dashed"],"range":[[1,0],[3,2]]},"legend":null}}},
{"data":{"name":"rl"},"transform":[{"filter":"datum.p==3"}],"mark":{"type":"rule","color":"#000","strokeWidth":1.8},"encoding":{"x":{"field":"x","type":"quantitative"}}}]},
{"width":122,"height":336,"resolve":{"scale":{"y":"independent"}},"layer":[
{"data":{"name":"sp"},"transform":[{"lookup":"s","from":{"data":{"name":"ser"},"key":"s","fields":["p","c"]}},{"filter":"datum.p==4"}],"mark":{"type":"line","strokeWidth":1.2,"clip":true},"encoding":{"x":{"field":"x","type":"quantitative","scale":{"domain":[1550,1760],"reverse":true,"nice":false,"zero":false},"axis":{"values":[1750,1700,1650,1600,1550],"tickCount":20,"labelOverlap":false,"title":"Chloroform"}},"y":{"field":"y","type":"quantitative","scale":{"domain":[70.3,100],"nice":false,"zero":false},"axis":{"orient":"right","values":[75,80,85,90,95,100],"tickCount":20,"title":"T, %","labelColor":"#44596e"}},"color":{"field":"c","type":"ordinal","scale":{"domain":[0,1,2,3,4,5,6,7,8,9],"range":["#2f66f2","#3d5ff0","#4b58ea","#6150e2","#7a48d8","#9343cc","#ae3fb8","#c93c9e","#e23a84","#f53b6c"]},"legend":null},"detail":{"field":"s"}}},
{"data":{"name":"ref"},"mark":{"type":"line","color":"#222","strokeWidth":1},"encoding":{"x":{"field":"x","type":"quantitative"},"y":{"field":"y","type":"quantitative","scale":{"domain":[0,100],"nice":false,"zero":false},"axis":null},"strokeDash":{"field":"k","type":"nominal","scale":{"domain":["solid","dashed"],"range":[[1,0],[3,2]]},"legend":null}}},
{"data":{"name":"rl"},"transform":[{"filter":"datum.p==4"}],"mark":{"type":"rule","color":"#000","strokeWidth":1.8},"encoding":{"x":{"field":"x","type":"quantitative"}}}]},
{"width":118,"height":336,"resolve":{"scale":{"y":"independent"}},"layer":[
{"data":{"name":"sp"},"transform":[{"lookup":"s","from":{"data":{"name":"ser"},"key":"s","fields":["p","c"]}},{"filter":"datum.p==5"}],"mark":{"type":"line","strokeWidth":1.6,"clip":true},"encoding":{"x":{"field":"x","type":"quantitative","scale":{"domain":[1550,1760],"reverse":true,"nice":false,"zero":false},"axis":{"values":[1750,1700,1650,1600,1550],"tickCount":20,"labelOverlap":false,"title":"Formic acid"}},"y":{"field":"y","type":"quantitative","scale":{"domain":[0,100],"nice":false,"zero":false},"axis":{"orient":"right","values":[0,10,20,30,40,50,60,70,80,90,100],"tickCount":20,"title":"T, %","domainColor":"#a9bcd6","tickColor":"#a9bcd6"}},"color":{"field":"c","type":"ordinal","scale":{"domain":[0,1,2,3,4,5,6,7,8,9],"range":["#2f66f2","#3d5ff0","#4b58ea","#6150e2","#7a48d8","#9343cc","#ae3fb8","#c93c9e","#e23a84","#f53b6c"]},"legend":null},"detail":{"field":"s"}}},
{"data":{"name":"ref"},"mark":{"type":"line","color":"#222","strokeWidth":1.1},"encoding":{"x":{"field":"x","type":"quantitative"},"y":{"field":"y","type":"quantitative","scale":{"domain":[0,100],"nice":false,"zero":false},"axis":null},"strokeDash":{"field":"k","type":"nominal","scale":{"domain":["solid","dashed"],"range":[[1,0],[3,2]]},"legend":null}}},
{"data":{"name":"rl"},"transform":[{"filter":"datum.p==5"}],"mark":{"type":"rule","color":"#000","strokeWidth":1.8},"encoding":{"x":{"field":"x","type":"quantitative"}}}]}
]
}
